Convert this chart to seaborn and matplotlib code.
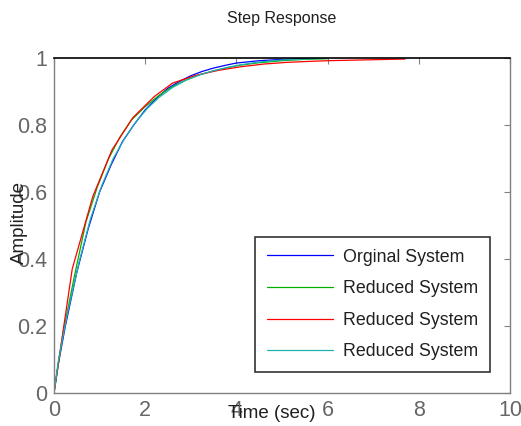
import numpy as np
import pandas as pd
import matplotlib
matplotlib.use("Agg")
import matplotlib.pyplot as plt
import seaborn as sns

# step response samples
t_orig = [0, 0.1, 0.25, 0.5, 0.75, 1.0, 1.25, 1.5, 1.75, 2.0, 2.25, 2.5, 2.75,
          3.0, 3.25, 3.5, 3.75, 4.0, 4.5, 5.0, 5.5, 6.0]
y_orig = [0, 0.09, 0.2, 0.36, 0.49, 0.6, 0.68, 0.75, 0.8, 0.845, 0.88, 0.91, 0.93,
          0.947, 0.96, 0.97, 0.978, 0.985, 0.992, 0.996, 0.999, 1.0]

t_red1 = [0, 0.2, 0.45, 0.7, 0.95, 1.2, 1.45, 1.7, 2.0, 2.3, 2.6, 2.9, 3.2, 3.5,
          3.8, 4.1, 4.5, 5.0, 5.5, 6.0]
y_red1 = [0, 0.18, 0.35, 0.51, 0.615, 0.7, 0.765, 0.815, 0.855, 0.888, 0.915, 0.935,
          0.95, 0.962, 0.971, 0.979, 0.986, 0.992, 0.996, 0.998]

t_red2 = [0, 0.4, 0.85, 1.27, 1.73, 2.2, 2.6, 3.1, 3.6, 4.1, 4.6, 5.1, 5.6, 6.0, 7.7]
y_red2 = [0, 0.37, 0.586, 0.725, 0.822, 0.885, 0.925, 0.948, 0.963, 0.974, 0.982,
          0.987, 0.99, 0.992, 0.997]

t_red3 = [0, 0.1, 0.3, 0.55, 0.8, 1.05, 1.3, 1.55, 1.8, 2.05, 2.3, 2.6, 2.9, 3.2,
          3.5, 3.8, 4.1, 4.5, 5.0, 5.5, 6.0]
y_red3 = [0, 0.1, 0.24, 0.39, 0.52, 0.62, 0.7, 0.76, 0.81, 0.85, 0.882, 0.912, 0.934,
          0.95, 0.962, 0.972, 0.98, 0.988, 0.994, 0.997, 0.999]

series = [
    ("Orginal System", t_orig, y_orig, "#0000ff"),
    ("Reduced System", t_red1, y_red1, "#00b000"),
    ("Reduced System", t_red2, y_red2, "#ff0000"),
    ("Reduced System", t_red3, y_red3, "#20b0b0"),
]

sns.set_style("white")
plt.rcParams["font.family"] = ["Liberation Sans", "DejaVu Sans"]

fig = plt.figure(figsize=(5.21, 4.26), dpi=100)
ax = fig.add_axes([0.1036, 0.0775, 0.8752, 0.7863])

for name, t, y, c in series:
    df = pd.DataFrame({"t": t, "y": y})
    sns.lineplot(data=df, x="t", y="y", color=c, linewidth=0.9, label=name,
                 estimator=None, sort=False, ax=ax)

ax.set_xlim(0, 10)
ax.set_ylim(0, 1)
ax.set_xticks([0, 2, 4, 6, 8, 10])
ax.set_yticks([0, 0.2, 0.4, 0.6, 0.8, 1])
ax.set_xticklabels(["0", "2", "4", "6", "8", "10"])
ax.set_yticklabels(["0", "0.2", "0.4", "0.6", "0.8", "1"])
ax.tick_params(direction="in", length=4, width=0.8, colors="#808080",
               labelcolor="#666666", labelsize=15.5, pad=5,
               top=True, right=True)

for side in ["left", "bottom", "right"]:
    ax.spines[side].set_color("#808080")
    ax.spines[side].set_linewidth(1.0)
ax.spines["top"].set_color("black")
ax.spines["top"].set_linewidth(1.2)

ax.set_title("Step Response", fontsize=11.5, color="#202020", pad=25)
ax.set_xlabel("Time (sec)", fontsize=13.5, color="#202020", va="center")
ax.xaxis.set_label_coords(0.478, -0.06)
ax.set_ylabel("Amplitude", fontsize=13.5, color="#202020", va="center")
ax.yaxis.set_label_coords(-0.075, 0.51)

leg = ax.legend(loc="lower right", bbox_to_anchor=(0.956, 0.063), fontsize=12.8,
                frameon=True, fancybox=False, handlelength=3.7, handletextpad=0.6,
                labelspacing=0.82, borderpad=0.65, borderaxespad=0)
leg.get_frame().set_edgecolor("black")
leg.get_frame().set_linewidth(1.2)
for txt in leg.get_texts():
    txt.set_color("#202020")

fig.savefig("out.png", dpi=100)
